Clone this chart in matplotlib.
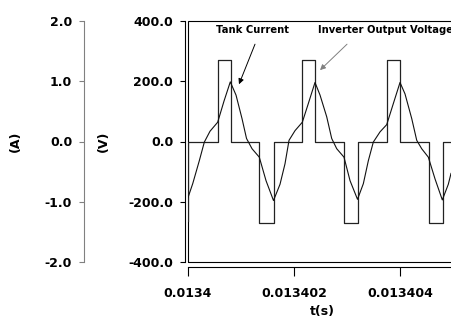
import numpy as np
import matplotlib
matplotlib.use("Agg")
import matplotlib.pyplot as plt
from matplotlib.patches import Rectangle

# time offsets in microseconds after t0 = 0.0134 s
t0 = 0.0134

# inverter output voltage (quasi square wave), switching instants and levels
v_edges_us = [0.0, 0.0, 0.560, 0.811, 1.340, 1.623, 2.151, 2.396, 2.943, 3.208,
              3.749, 3.991, 4.547, 4.811, 5.2]
v_levels = [-265, 0, 270, 0, -270, 0, 270, 0, -270, 0, 270, 0, -270, 0, 0]

# tank current samples (A)
i_us = [0.000, 0.089, 0.213, 0.308, 0.415, 0.560, 0.679, 0.798, 0.906, 1.019,
        1.104, 1.208, 1.345, 1.472, 1.613,
        1.736, 1.830, 1.906, 2.019, 2.157, 2.270, 2.396, 2.491, 2.617, 2.711,
        2.806, 2.943, 3.057, 3.198,
        3.308, 3.402, 3.496, 3.623, 3.749, 3.874, 4.000, 4.094, 4.221, 4.315,
        4.409, 4.534, 4.660, 4.798, 4.911, 4.962]
i_amp = [-0.93, -0.70, -0.32, -0.01, 0.17, 0.32, 0.67, 0.99, 0.77, 0.38,
         0.05, -0.12, -0.26, -0.65, -0.98,
         -0.71, -0.37, 0.02, 0.18, 0.32, 0.63, 0.98, 0.77, 0.41, 0.05,
         -0.12, -0.26, -0.65, -0.96,
         -0.70, -0.32, -0.01, 0.16, 0.28, 0.63, 0.98, 0.79, 0.38, 0.02,
         -0.12, -0.26, -0.62, -0.97, -0.71, -0.53]

x_ticks = [0.0134, 0.013402, 0.013404]
x_labels = ["0.0134", "0.013402", "0.013404"]
v_ticks = [-400, -200, 0, 200, 400]
a_ticks = [-2, -1, 0, 1, 2]

plt.rcParams['font.family'] = 'DejaVu Sans'
plt.rcParams['font.weight'] = 'bold'

fig = plt.figure(figsize=(4.51, 3.26), dpi=100)
W, H = 451, 326
ax = fig.add_axes([188 / W, 1 - 262 / H, (457 - 188) / W, (262 - 21) / H])

t_v = t0 + np.array(v_edges_us) * 1e-6
t_i = t0 + np.array(i_us) * 1e-6
ax.plot(t_v, v_levels, drawstyle='steps-post', color='#222222', lw=0.9)
# current drawn on the voltage scale (1 A = 200 V)
ax.plot(t_i, np.array(i_amp) * 200, color='#111111', lw=0.8)

ax.set_xlim(t0, t0 + 5.075e-6)
ax.set_ylim(-400, 400)

# frame box
ax.add_patch(Rectangle((0, 0), 1, 1, transform=ax.transAxes, fill=False,
                       lw=0.8, edgecolor='black', clip_on=False))
ax.spines['top'].set_visible(False)
ax.spines['right'].set_visible(False)
ax.spines['left'].set_position(('outward', 2.2))
ax.spines['bottom'].set_position(('outward', 3.6))
ax.spines['left'].set_linewidth(0.8)
ax.spines['bottom'].set_linewidth(0.8)

ax.set_yticks(v_ticks)
ax.set_yticklabels([f'{v:.1f}' for v in v_ticks])
ax.set_xticks(x_ticks)
ax.set_xticklabels(x_labels)
ax.tick_params(axis='y', length=3.5, width=0.8, pad=5, labelsize=9)
ax.tick_params(axis='x', length=6.5, width=0.8, pad=8, labelsize=9)

# current axis further left
ax2 = ax.twinx()
ax2.set_ylim(-2, 2)
for s in ['top', 'right', 'bottom']:
    ax2.spines[s].set_visible(False)
ax2.spines['left'].set_visible(True)
ax2.spines['left'].set_position(('outward', 74.9))
ax2.spines['left'].set_color('#808080')
ax2.spines['left'].set_linewidth(0.8)
ax2.yaxis.tick_left()
ax2.set_yticks(a_ticks)
ax2.set_yticklabels([f'{a:.1f}' for a in a_ticks])
ax2.tick_params(axis='y', length=3.5, width=0.8, pad=5, labelsize=9,
                color='#808080')

fig.text(15 / W, 1 - 141 / H, '(A)', rotation=90, ha='center', va='center',
         fontsize=9, fontweight='bold')
fig.text(103 / W, 1 - 141 / H, '(V)', rotation=90, ha='center', va='center',
         fontsize=9, fontweight='bold')
fig.text(322 / W, 1 - 311 / H, 't(s)', ha='center', va='center',
         fontsize=9, fontweight='bold')

# annotations
ax.text(t0 + 1.208e-6, 370, 'Tank Current', ha='center', va='center',
        fontsize=7.2, fontweight='bold')
ax.annotate('', xy=(t0 + 0.962e-6, 190), xytext=(t0 + 1.264e-6, 323),
            arrowprops=dict(arrowstyle='-|>', color='black', lw=0.7,
                            mutation_scale=8, shrinkA=0, shrinkB=0))
ax.text(t0 + 3.717e-6, 370, 'Inverter Output Voltage', ha='center',
        va='center', fontsize=7.2, fontweight='bold')
ax.annotate('', xy=(t0 + 2.491e-6, 237), xytext=(t0 + 3.0e-6, 323),
            arrowprops=dict(arrowstyle='-|>', color='#808080', lw=0.7,
                            mutation_scale=8, shrinkA=0, shrinkB=0))

fig.savefig('out.png', dpi=100)
